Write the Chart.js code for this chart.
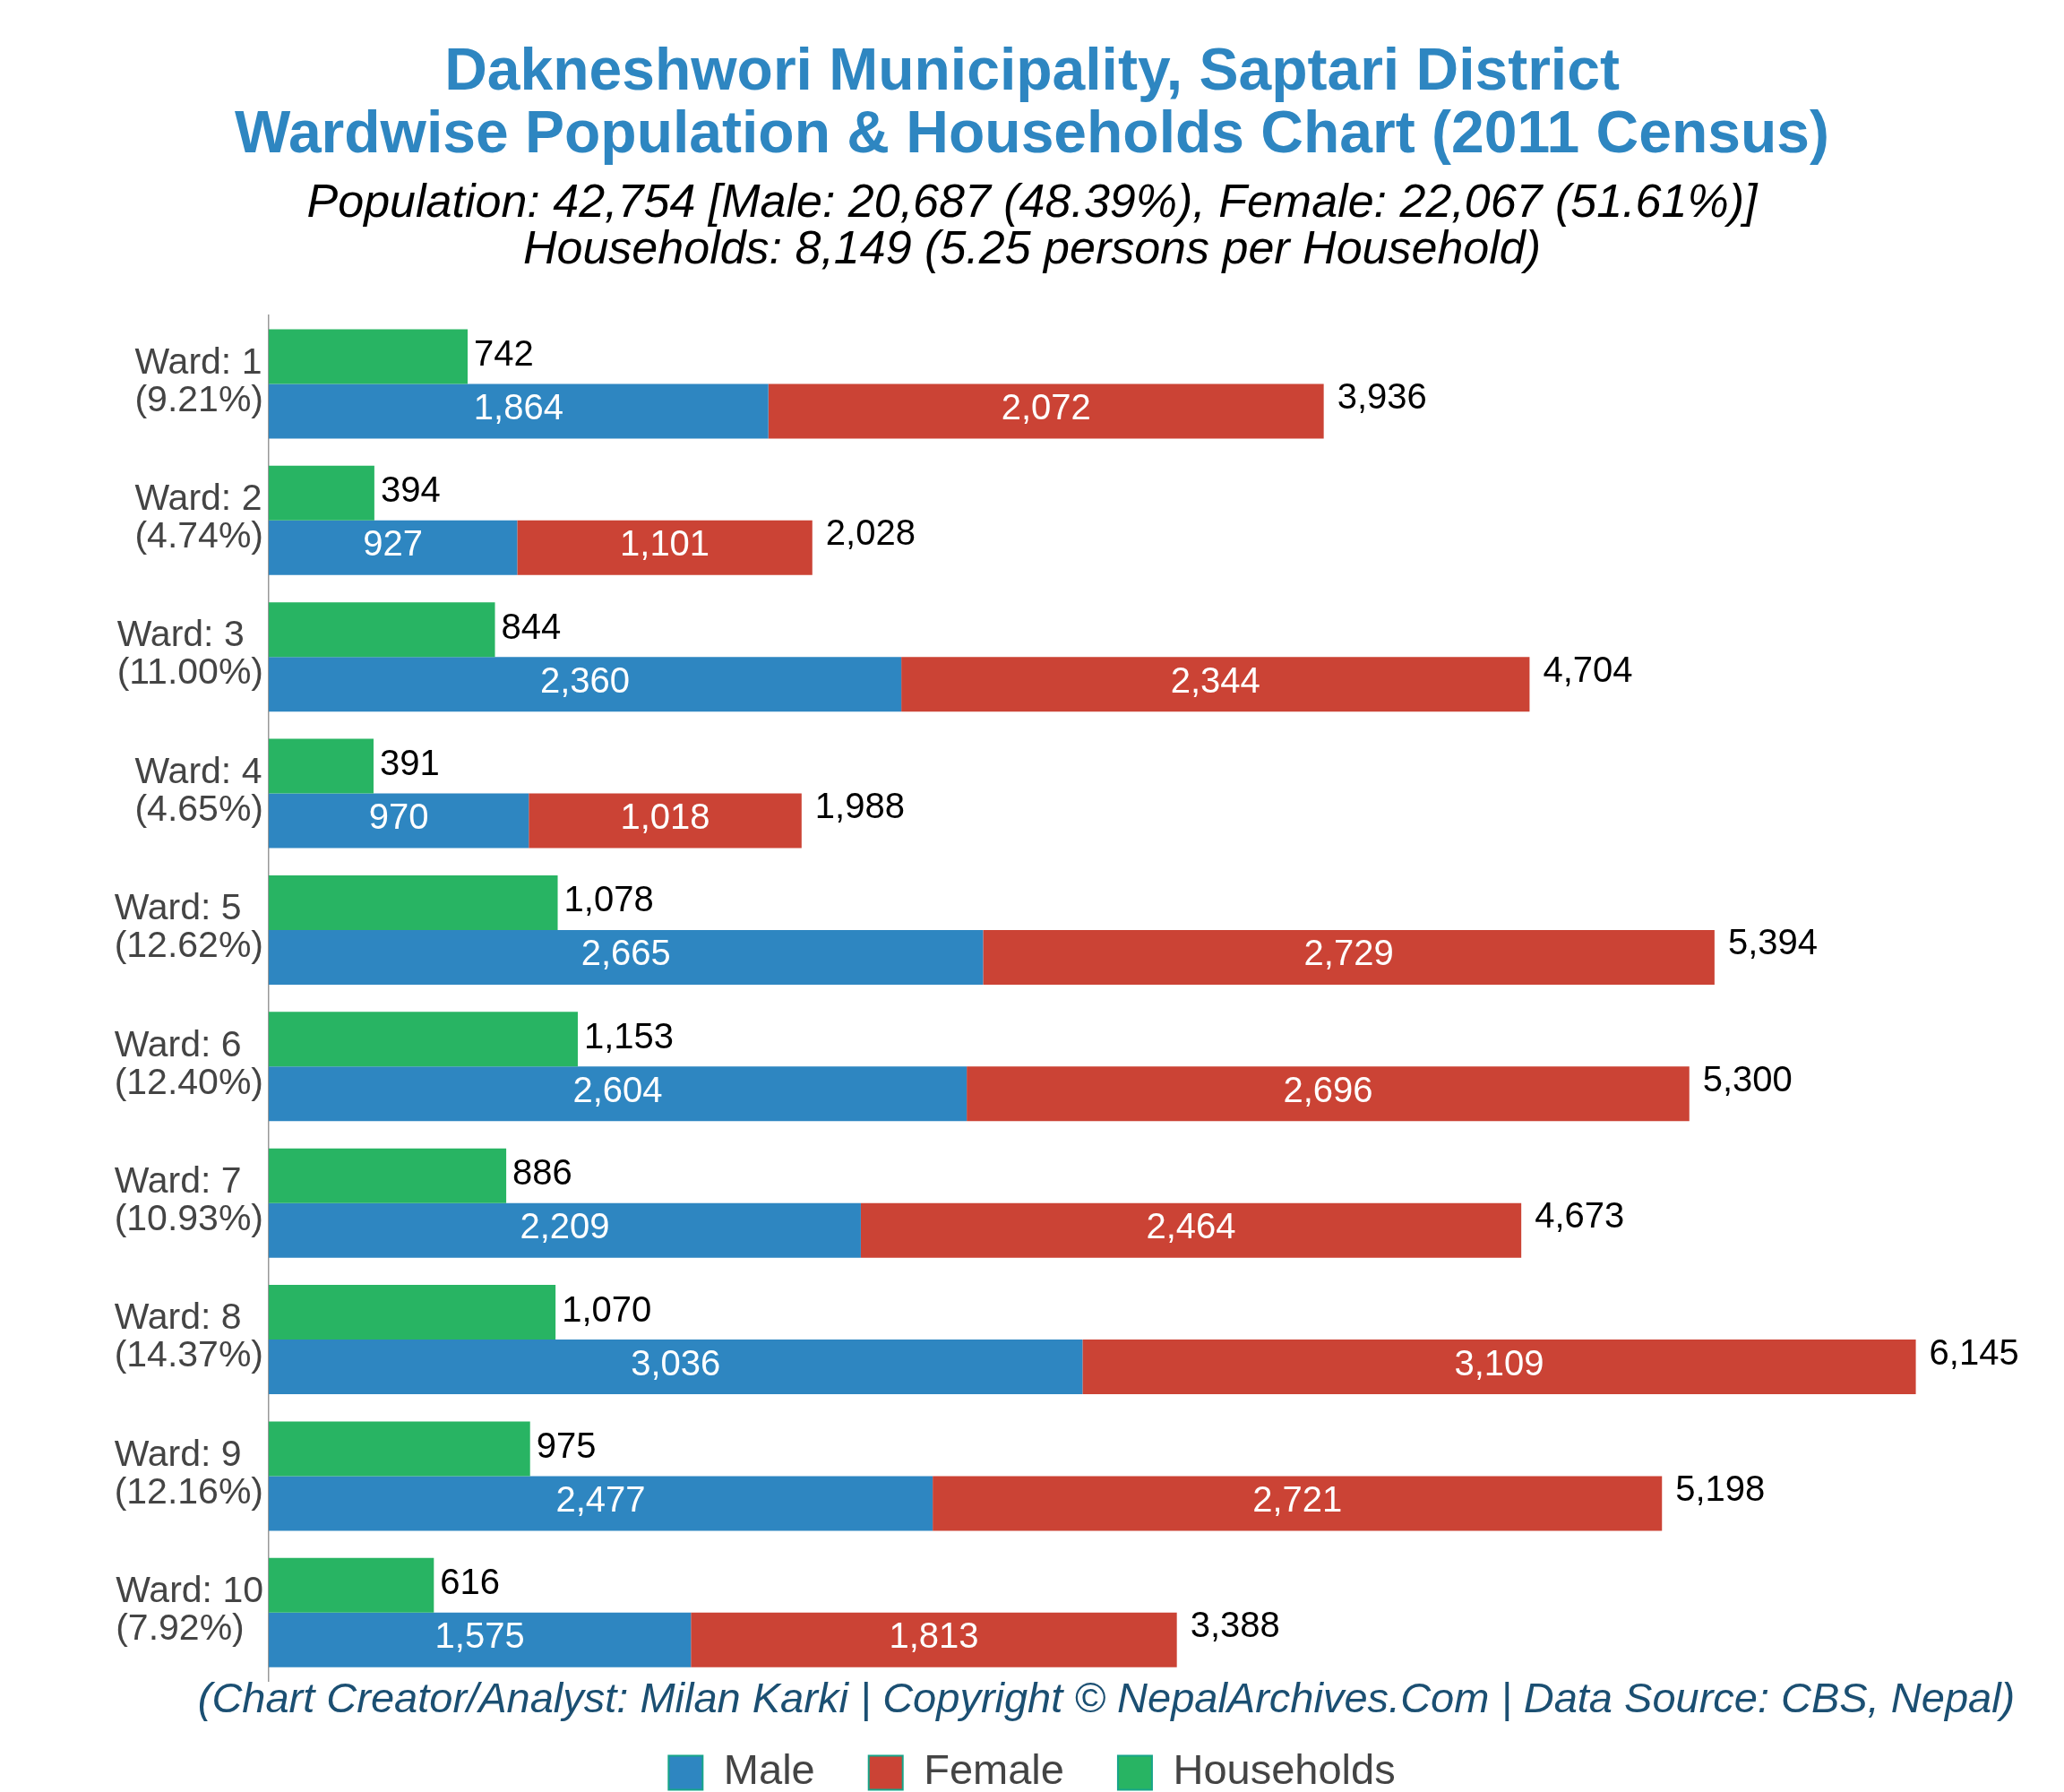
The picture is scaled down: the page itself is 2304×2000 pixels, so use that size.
<!DOCTYPE html>
<html>
<head>
<meta charset="utf-8">
<script src="https://cdn.jsdelivr.net/npm/chart.js@4.4.1/dist/chart.umd.min.js"></script>
<style>
  html, body { margin: 0; padding: 0; background: #fff; }
  #wrap { width: 2304px; height: 2000px; position: relative; }
</style>
</head>
<body>
<div id="wrap"><canvas id="chart"></canvas></div>
<script>
// ward data (2011 census)
const wards = ['1', '2', '3', '4', '5', '6', '7', '8', '9', '10'];
const wardShares = ['9.21%', '4.74%', '11.00%', '4.65%', '12.62%', '12.40%', '10.93%', '14.37%', '12.16%', '7.92%'];
const male = [1864, 927, 2360, 970, 2665, 2604, 2209, 3036, 2477, 1575];
const female = [2072, 1101, 2344, 1018, 2729, 2696, 2464, 3109, 2721, 1813];
const households = [742, 394, 844, 391, 1078, 1153, 886, 1070, 975, 616];

const FONT = '"Liberation Sans", Arial, Helvetica, sans-serif';
const CREDIT = '(Chart Creator/Analyst: Milan Karki | Copyright \u00A9 NepalArchives.Com | Data Source: CBS, Nepal)';
const fmt = v => v.toLocaleString('en-US');

const labels = wards.map((w, i) => ['Ward: ' + w, '(' + wardShares[i] + ')']);

// value labels next to / inside the bars
const valueLabels = {
  id: 'valueLabels',
  afterDatasetsDraw(chart) {
    const ctx = chart.ctx;
    ctx.save();
    ctx.font = '40px ' + FONT;
    ctx.textBaseline = 'middle';
    const hh = chart.getDatasetMeta(0);
    const m = chart.getDatasetMeta(1);
    const f = chart.getDatasetMeta(2);
    hh.data.forEach((bar, i) => {
      ctx.fillStyle = '#000';
      ctx.textAlign = 'left';
      ctx.fillText(fmt(households[i]), bar.x + 7, bar.y - 1);
    });
    m.data.forEach((bar, i) => {
      ctx.fillStyle = '#fff';
      ctx.textAlign = 'center';
      ctx.fillText(fmt(male[i]), (bar.base + bar.x) / 2, bar.y - 2);
    });
    f.data.forEach((bar, i) => {
      ctx.fillStyle = '#fff';
      ctx.textAlign = 'center';
      ctx.fillText(fmt(female[i]), (bar.base + bar.x) / 2, bar.y - 2);
      ctx.fillStyle = '#000';
      ctx.textAlign = 'left';
      ctx.fillText(fmt(male[i] + female[i]), bar.x + 15, bar.y - 14);
    });
    ctx.restore();
  }
};

// ward tick labels (block anchored at the axis, lines left-aligned) and credit line
const wardTicks = {
  id: 'wardTicks',
  afterDraw(chart) {
    const ctx = chart.ctx;
    const y = chart.scales.y;
    const area = chart.chartArea;
    ctx.save();
    ctx.font = '41px ' + FONT;
    ctx.fillStyle = '#444';
    ctx.textAlign = 'left';
    ctx.textBaseline = 'middle';
    labels.forEach((lines, i) => {
      const w = Math.max(...lines.map(t => ctx.measureText(t).width));
      const x0 = y.right - 6 - w;
      const yc = y.getPixelForTick(i);
      ctx.fillText(lines[0], x0, yc - 23);
      ctx.fillText(lines[1], x0, yc + 19);
    });
    ctx.font = 'italic 47px ' + FONT;
    ctx.fillStyle = '#1B4F72';
    ctx.textAlign = 'center';
    ctx.fillText(CREDIT, (area.left + area.right) / 2, area.bottom + 22);
    ctx.restore();
  }
};

const legendRank = { 'Male': 0, 'Female': 1, 'Households': 2 };

new Chart(document.getElementById('chart'), {
  type: 'bar',
  data: {
    labels: labels,
    datasets: [
      { label: 'Households', data: households, backgroundColor: '#28B463', stack: 'hh' },
      { label: 'Male', data: male, backgroundColor: '#2E86C1', stack: 'pop' },
      { label: 'Female', data: female, backgroundColor: '#CB4335', stack: 'pop' }
    ]
  },
  options: {
    indexAxis: 'y',
    responsive: true,
    maintainAspectRatio: false,
    animation: false,
    categoryPercentage: 0.8,
    barPercentage: 1.0,
    layout: { padding: { left: 0, right: 0, top: 0, bottom: -12 } },
    scales: {
      x: {
        stacked: true,
        min: 0,
        max: 6250,
        grid: { display: false },
        border: { display: false },
        ticks: { display: false },
        afterFit(scale) { scale.height = 19; }
      },
      y: {
        stacked: true,
        grid: { display: false },
        border: { display: true, color: '#999', width: 1.5 },
        ticks: { display: false },
        afterFit(scale) { scale.width = 300; }
      },
      y2: {
        position: 'right',
        display: true,
        grid: { display: false },
        border: { display: false },
        ticks: { display: false },
        afterFit(scale) { scale.width = 134; }
      }
    },
    plugins: {
      title: {
        display: true,
        text: ['Dakneshwori Municipality, Saptari District', 'Wardwise Population & Households Chart (2011 Census)'],
        color: '#2E86C1',
        font: { family: FONT, size: 66, weight: 'bold', lineHeight: 1.07 },
        padding: { top: 46, bottom: 6 }
      },
      subtitle: {
        display: true,
        text: ['Population: 42,754 [Male: 20,687 (48.39%), Female: 22,067 (51.61%)]', 'Households: 8,149 (5.25 persons per Household)'],
        color: '#000',
        font: { family: FONT, size: 52, style: 'italic', lineHeight: 1.0 },
        padding: { top: 8, bottom: 47 }
      },
      legend: {
        position: 'bottom',
        labels: {
          color: '#444',
          font: { family: FONT, size: 47 },
          boxWidth: 38,
          boxHeight: 38,
          padding: 60,
          sort: (a, b) => legendRank[a.text] - legendRank[b.text],
          generateLabels(chart) {
            const items = Chart.defaults.plugins.legend.labels.generateLabels(chart);
            items.forEach(it => { it.strokeStyle = '#17A589'; it.lineWidth = 2; });
            return items;
          }
        }
      },
      tooltip: { enabled: false }
    }
  },
  plugins: [valueLabels, wardTicks]
});
</script>
</body>
</html>
